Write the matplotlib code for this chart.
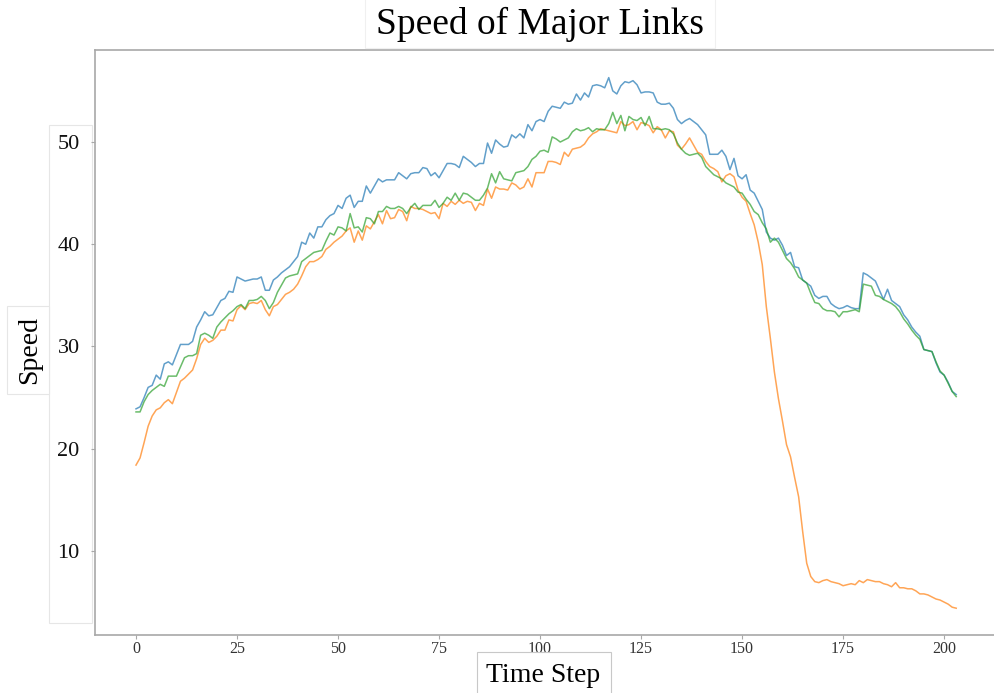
import matplotlib
matplotlib.use("Agg")
import matplotlib.pyplot as plt
from matplotlib.patches import Rectangle

plt.rcParams['font.family'] = ['Liberation Serif', 'DejaVu Serif']

time_steps = list(range(204))

speed_blue = [
    23.9, 24.1, 25.0, 26.0, 26.2, 27.2, 26.8, 28.3, 28.5, 28.2,
    29.2, 30.2, 30.2, 30.2, 30.5, 31.9, 32.6, 33.4, 33.0, 33.1,
    33.8, 34.5, 34.7, 35.4, 35.3, 36.8, 36.6, 36.4, 36.5, 36.6,
    36.6, 36.8, 35.5, 35.5, 36.5, 36.8, 37.2, 37.5, 37.8, 38.3,
    38.8, 40.2, 40.0, 41.1, 40.6, 41.7, 41.7, 42.4, 42.8, 43.0,
    43.8, 43.5, 44.5, 44.8, 43.6, 44.2, 44.2, 45.7, 45.0, 45.7,
    46.4, 46.1, 46.3, 46.3, 46.3, 47.0, 46.7, 46.4, 46.9, 47.0,
    47.0, 47.5, 47.4, 46.7, 47.0, 46.5, 47.2, 47.9, 47.9, 47.8,
    47.5, 48.6, 48.3, 48.0, 47.6, 47.9, 47.9, 49.9, 48.9, 50.2,
    49.8, 49.5, 49.6, 50.7, 50.4, 50.8, 50.4, 51.7, 51.1, 52.0,
    52.2, 52.0, 53.0, 53.5, 53.4, 53.3, 53.9, 53.7, 53.8, 54.7,
    54.1, 54.8, 54.4, 55.5, 55.6, 55.5, 55.3, 56.3, 55.0, 54.7,
    55.5, 55.9, 55.8, 56.0, 55.6, 54.8, 54.9, 54.9, 54.8, 53.9,
    53.7, 53.7, 53.8, 53.3, 52.2, 51.8, 52.1, 52.3, 52.0, 51.7,
    51.2, 50.7, 48.8, 48.8, 48.8, 49.2, 48.6, 47.3, 48.4, 46.7,
    46.4, 46.8, 45.3, 45.0, 44.2, 43.4, 41.2, 40.6, 40.4, 40.6,
    39.9, 38.9, 39.2, 37.8, 37.7, 36.5, 36.2, 35.9, 35.0, 34.7,
    34.9, 34.9, 34.2, 33.9, 33.7, 33.8, 34.0, 33.8, 33.7, 33.7,
    37.2, 37.0, 36.7, 36.4, 35.5, 34.6, 35.6, 34.5, 34.2, 33.9,
    33.1, 32.6, 31.9, 31.4, 31.0, 29.7, 29.6, 29.5, 28.4, 27.5,
    27.2, 26.5, 25.6, 25.3,
]

speed_orange = [
    18.4, 19.1, 20.6, 22.2, 23.2, 23.8, 24.0, 24.5, 24.8, 24.4,
    25.5, 26.6, 26.9, 27.3, 27.7, 28.8, 30.2, 30.8, 30.4, 30.6,
    31.0, 31.6, 31.6, 32.6, 32.5, 33.6, 34.0, 33.6, 34.2, 34.3,
    34.2, 34.5, 33.6, 33.0, 33.9, 34.1, 34.6, 35.1, 35.3, 35.6,
    36.1, 36.9, 37.8, 38.3, 38.3, 38.5, 38.8, 39.5, 39.8, 40.2,
    40.5, 40.8, 41.3, 41.6, 40.2, 41.3, 40.4, 41.8, 41.5, 42.2,
    42.9, 42.0, 43.3, 42.5, 42.6, 43.4, 43.2, 42.3, 43.7, 43.5,
    43.5, 43.4, 43.2, 43.0, 43.1, 42.5, 44.0, 43.7, 44.2, 43.9,
    44.3, 44.0, 44.2, 44.1, 43.3, 44.0, 43.8, 45.4, 44.5, 45.6,
    45.4, 45.4, 45.3, 46.0, 45.8, 45.4, 45.6, 46.4, 45.6, 47.0,
    47.0, 47.0, 48.1, 48.1, 48.0, 47.8, 49.0, 48.6, 49.3, 49.4,
    49.5, 49.8, 50.4, 50.8, 51.0, 51.3, 51.2, 51.1, 51.0, 50.9,
    52.0, 51.6, 51.7, 52.0, 51.2, 51.9, 51.8, 51.6, 50.9, 51.5,
    51.2, 50.4, 51.1, 51.0, 49.7, 49.3, 49.8, 50.4, 49.7, 49.0,
    48.8, 48.1, 47.6, 47.4, 47.1, 46.1, 46.7, 46.9, 46.6, 45.3,
    44.6, 44.2, 43.0, 41.9, 40.2, 38.0, 33.9, 30.8, 27.5, 24.9,
    22.7, 20.4, 19.2, 17.2, 15.3, 11.9, 8.8, 7.5, 7.0, 6.9,
    7.1, 7.2, 7.0, 6.9, 6.8, 6.6, 6.7, 6.8, 6.7, 7.1,
    6.9, 7.2, 7.1, 7.0, 7.0, 6.8, 6.7, 6.5, 6.9, 6.4,
    6.4, 6.3, 6.3, 6.1, 5.8, 5.8, 5.7, 5.5, 5.3, 5.2,
    5.0, 4.8, 4.5, 4.4,
]

speed_green = [
    23.6, 23.6, 24.6, 25.3, 25.7, 26.0, 26.3, 26.1, 27.1, 27.1,
    27.1, 28.0, 28.9, 29.1, 29.1, 29.3, 31.1, 31.3, 31.1, 30.8,
    31.9, 32.4, 32.8, 33.2, 33.5, 33.9, 34.1, 33.7, 34.5, 34.5,
    34.6, 34.9, 34.5, 33.7, 34.3, 35.3, 36.0, 36.7, 36.9, 37.0,
    37.1, 38.3, 38.6, 38.9, 39.2, 39.3, 39.4, 40.3, 41.1, 40.9,
    41.7, 41.6, 41.3, 43.0, 41.6, 41.7, 41.2, 42.6, 42.5, 42.0,
    43.2, 43.2, 43.7, 43.5, 43.5, 43.7, 43.5, 43.0, 43.6, 44.0,
    43.4, 43.8, 43.8, 43.8, 44.3, 43.6, 44.0, 44.6, 44.3, 45.0,
    44.3, 45.0, 44.9, 44.6, 44.3, 44.3, 44.8, 45.5, 46.9, 46.0,
    47.1, 46.4, 46.3, 46.2, 47.0, 47.1, 47.2, 47.6, 48.3, 48.6,
    49.1, 49.2, 49.0, 50.5, 50.3, 50.0, 50.2, 50.4, 51.0, 51.3,
    51.1, 51.2, 51.4, 51.0, 51.3, 51.2, 51.2, 51.8, 52.9, 51.8,
    52.6, 51.1, 52.5, 52.2, 52.1, 52.4, 51.6, 52.5, 51.3, 51.3,
    51.2, 51.3, 51.2, 50.8, 49.9, 49.3, 48.9, 48.7, 48.8, 48.9,
    48.5, 47.6, 47.2, 46.8, 46.6, 46.4, 46.0, 45.8, 45.6, 45.1,
    45.0, 44.4, 43.9, 43.2, 42.9, 42.1, 41.5, 40.2, 40.6, 40.2,
    39.4, 38.6, 38.2, 37.6, 36.8, 36.5, 36.2, 35.2, 34.3, 34.2,
    33.7, 33.5, 33.5, 33.4, 32.9, 33.4, 33.4, 33.5, 33.6, 33.4,
    36.1, 36.0, 35.9, 35.0, 34.9, 34.6, 34.4, 34.2, 33.9, 33.4,
    32.7, 32.2, 31.6, 31.1, 30.7, 29.7, 29.6, 29.5, 28.5, 27.6,
    27.2, 26.4, 25.6, 25.1,
]

x_ticks = [0, 25, 50, 75, 100, 125, 150, 175, 200]
y_ticks = [10, 20, 30, 40, 50]

W, H = 995, 693
fig = plt.figure(figsize=(W / 100, H / 100), dpi=100)
fig.patch.set_facecolor('white')


def px(x0, y0, x1, y1):
    """Pixel box (left, top, right, bottom) -> figure-fraction rect."""
    return (x0 / W, 1 - y1 / H, (x1 - x0) / W, (y1 - y0) / H)


ax = fig.add_axes(px(95, 50, 995, 635))
ax.set_facecolor('white')

ax.plot(time_steps, speed_blue, color='tab:blue', alpha=0.7, lw=1.1)
ax.plot(time_steps, speed_orange, color='tab:orange', alpha=0.7, lw=1.1)
ax.plot(time_steps, speed_green, color='tab:green', alpha=0.7, lw=1.1)

ax.set_xlim(-10.15, 212.6)
ax.set_ylim(1.78, 59.0)
ax.set_xticks(x_ticks)
ax.set_yticks(y_ticks)

for side in ('left', 'bottom', 'top'):
    ax.spines[side].set_color('#a8a8a8')
    ax.spines[side].set_linewidth(1.2)
ax.spines['right'].set_visible(False)

ax.tick_params(axis='x', colors='#a8a8a8', length=3, width=0.8,
               labelsize=11.5, labelcolor='#333333', pad=1.5)
ax.tick_params(axis='y', colors='#a8a8a8', length=3, width=0.8,
               labelsize=16, labelcolor='#111111', pad=8)

edge = '#e6e6e6'

# framed panel behind the y tick labels
fig.add_artist(Rectangle((49 / W, 1 - 623 / H), 43 / W, 498 / H,
                         transform=fig.transFigure, facecolor='none',
                         edgecolor=edge, lw=0.8, zorder=0))

# title
fig.add_artist(Rectangle((365 / W, 1 - 48 / H), 350 / W, 50 / H,
                         transform=fig.transFigure, facecolor='white',
                         edgecolor='#f0f0f0', lw=0.8, zorder=5))
fig.text(540 / W, 1 - 24 / H, 'Speed of Major Links', fontsize=27,
         ha='center', va='center', color='black', zorder=6)

# y label
fig.add_artist(Rectangle((7 / W, 1 - 394 / H), 42 / W, 88 / H,
                         transform=fig.transFigure, facecolor='white',
                         edgecolor=edge, lw=0.8, zorder=5))
fig.text(30 / W, 1 - 350 / H, 'Speed', fontsize=20, rotation=90,
         ha='center', va='center', color='black', zorder=6)

# x label
fig.add_artist(Rectangle((477 / W, 1 - 700 / H), 134 / W, 48 / H,
                         transform=fig.transFigure, facecolor='white',
                         edgecolor='#c8c8c8', lw=0.8, zorder=5))
fig.text(543 / W, 1 - 675 / H, 'Time Step', fontsize=20,
         ha='center', va='center', color='black', zorder=6)

fig.savefig('out.png', dpi=100, facecolor='white')
